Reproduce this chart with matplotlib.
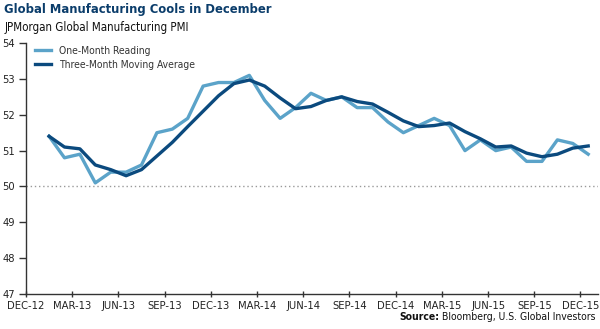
import matplotlib
matplotlib.use('Agg')
import matplotlib.pyplot as plt

# Condensed sans, closest to the original typeface
plt.rcParams['font.family'] = ['DejaVu Sans']
plt.rcParams['font.stretch'] = 'condensed'

# Data: JPMorgan Global Manufacturing PMI, Jan-13 .. Dec-15
one_month = [51.4, 50.8, 50.9, 50.1, 50.4, 50.4, 50.6, 51.5, 51.6, 51.9, 52.8, 52.9,
             52.9, 53.1, 52.4, 51.9, 52.2, 52.6, 52.4, 52.5, 52.2, 52.2, 51.8, 51.5,
             51.7, 51.9, 51.7, 51.0, 51.3, 51.0, 51.1, 50.7, 50.7, 51.3, 51.2, 50.9]
three_month = [51.4, 51.1, 51.05, 50.6, 50.47, 50.3, 50.47, 50.85, 51.23, 51.67, 52.1, 52.53,
               52.87, 52.97, 52.8, 52.47, 52.17, 52.23, 52.4, 52.5, 52.37, 52.3, 52.07, 51.83,
               51.67, 51.7, 51.77, 51.53, 51.33, 51.1, 51.13, 50.93, 50.83, 50.9, 51.07, 51.13]
tick_labels = ['DEC-12', 'MAR-13', 'JUN-13', 'SEP-13', 'DEC-13', 'MAR-14', 'JUN-14',
               'SEP-14', 'DEC-14', 'MAR-15', 'JUN-15', 'SEP-15', 'DEC-15']

# months counted from the start of Dec-12, points sit at mid-month
months = [i + 1.5 for i in range(len(one_month))]

light = '#5ba3c9'
dark = '#0b4a7e'

fig = plt.figure(figsize=(6, 3.29), dpi=100)
ax = fig.add_axes([0.0433, 0.1064, 0.9537, 0.7626])

ax.axhline(50, color='#999999', linestyle=(0, (1, 2)), linewidth=1, zorder=1)
ax.plot(months, one_month, color=light, linewidth=2.4, label='One-Month Reading', zorder=2)
ax.plot(months, three_month, color=dark, linewidth=2.4, label='Three-Month Moving Average', zorder=3)

ax.set_xlim(0, 37.15)
ax.set_ylim(47, 54)
ax.set_yticks(range(47, 55))
ax.set_xticks([3 * i for i in range(len(tick_labels))])
ax.set_xticklabels(tick_labels)

for s in ['top', 'right']:
    ax.spines[s].set_visible(False)
for s in ['left', 'bottom']:
    ax.spines[s].set_color('#333333')
    ax.spines[s].set_linewidth(1)
ax.tick_params(axis='y', direction='out', length=5, width=1, color='#333333',
               labelsize=8, labelcolor='#222222', pad=3)
ax.tick_params(axis='x', direction='inout', length=4, width=1, color='#333333',
               labelsize=8, labelcolor='#222222', pad=3)

leg = ax.legend(loc='upper left', bbox_to_anchor=(0.005, 1.015), frameon=False,
                fontsize=7.4, handlelength=1.55, handletextpad=0.75, labelspacing=0.4,
                borderaxespad=0.2)
for t in leg.get_texts():
    t.set_color('#333333')

fig.text(0.007, 0.992, 'Global Manufacturing Cools in December', fontsize=9.3,
         fontweight='bold', color='#0b3d6b', va='top', ha='left')
fig.text(0.007, 0.935, 'JPMorgan Global Manufacturing PMI', fontsize=8.3,
         color='#111111', va='top', ha='left')

t2 = fig.text(0.993, 0.02, ' Bloomberg, U.S. Global Investors', fontsize=7.5,
              color='#111111', ha='right', va='bottom')
fig.canvas.draw()
bb = t2.get_window_extent()
fig.text(bb.x0 / fig.bbox.width, 0.02, 'Source:', fontsize=7.5, fontweight='bold',
         color='#111111', ha='right', va='bottom')

fig.savefig('out.png', dpi=100)
